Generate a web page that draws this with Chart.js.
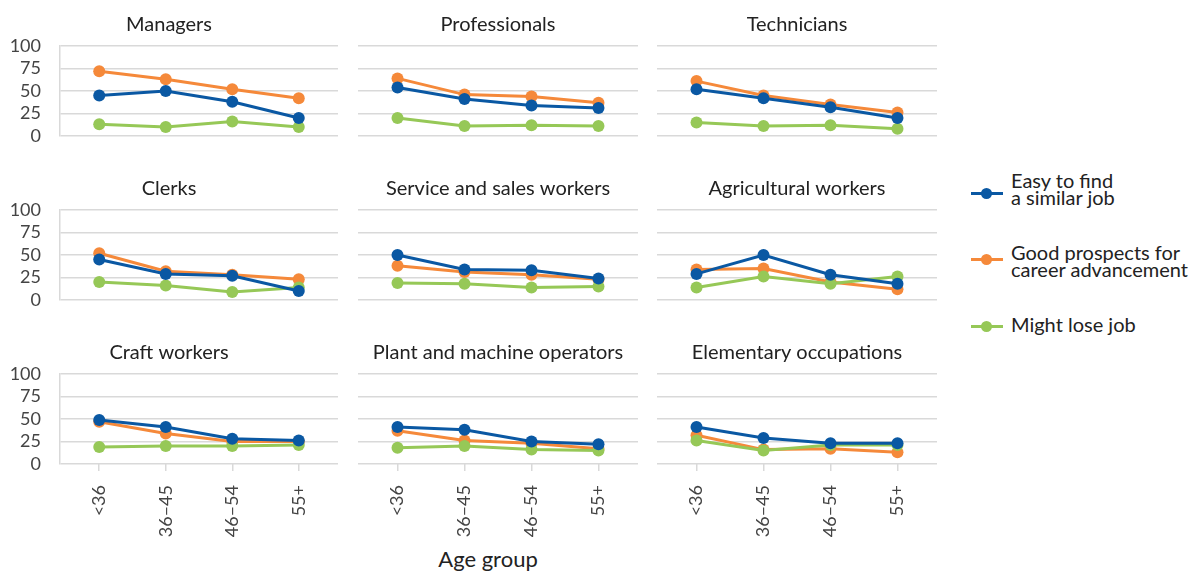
<!DOCTYPE html>
<html><head><meta charset="utf-8">
<script src="https://cdn.jsdelivr.net/npm/chart.js@4.4.1/dist/chart.umd.min.js"></script>
<style>
body{margin:0;background:#fff;width:1197px;height:574px;overflow:hidden;position:relative;font-family:Lato,sans-serif;}
canvas{position:absolute;}
.leg{position:absolute;left:1011px;font-size:20px;line-height:17px;color:#222;white-space:nowrap;}
.mk{position:absolute;left:971px;width:32px;height:3px;}
.mk span{position:absolute;left:10px;top:-4px;width:11px;height:11px;border-radius:50%;}
#xt{position:absolute;left:388px;width:200px;text-align:center;font-size:22px;line-height:22px;color:#222;}
</style></head><body>
<div id="xt">Age group</div>
<script>
const ageGroups = ['<36', '36–45', '46–54', '55+'];
const occupations = ['Managers', 'Professionals', 'Technicians', 'Clerks', 'Service and sales workers', 'Agricultural workers', 'Craft workers', 'Plant and machine operators', 'Elementary occupations'];
const yTicks = [0, 25, 50, 75, 100];
const seriesNames = ['Easy to find a similar job', 'Good prospects for career advancement', 'Might lose job'];
const legendLines = [['Easy to find', 'a similar job'], ['Good prospects for', 'career advancement'], ['Might lose job']];
const easyToFind = [
  [45, 50, 38, 20],
  [54, 41, 34, 31],
  [52, 42, 32, 20],
  [45, 29, 27, 10],
  [50, 34, 33, 24],
  [29, 50, 28, 18],
  [49, 41, 28, 26],
  [41, 38, 25, 22],
  [41, 29, 23, 23]
];
const goodProspects = [
  [72, 63, 52, 42],
  [64, 46, 44, 37],
  [61, 45, 35, 26],
  [52, 32, 28, 23],
  [38, 31, 28, 23],
  [34, 35, 20, 12],
  [47, 34, 25, 25],
  [37, 26, 23, 17],
  [32, 16, 17, 13]
];
const mightLose = [
  [13, 10, 16, 10],
  [20, 11, 12, 11],
  [15, 11, 12, 8],
  [20, 16, 9, 14],
  [19, 18, 14, 15],
  [14, 26, 18, 26],
  [19, 20, 20, 21],
  [18, 20, 16, 15],
  [26, 15, 21, 21]
];
const seriesData = [easyToFind, goodProspects, mightLose];
const colors = ['#0a58a3', '#f5893a', '#96c857'];
const drawOrder = [1, 3, 2];

const colLeft = [60, 358, 657];
const plotW = [278, 280, 280];
const plotTop = [46, 210, 374];
const plotH = 90;
const titleH = 35;
const FONT = 'Lato';

occupations.forEach((name, i) => {
  const r = Math.floor(i / 3), c = i % 3;
  const bottomRow = r === 2, leftCol = c === 0;
  const yW = leftCol ? 60 : 0;
  const bottomH = bottomRow ? 80 : 32;
  const cv = document.createElement('canvas');
  const w = plotW[c] + yW, h = titleH + plotH + bottomH;
  cv.width = w; cv.height = h;
  cv.style.left = (colLeft[c] - yW) + 'px';
  cv.style.top = (plotTop[r] - titleH) + 'px';
  cv.style.width = w + 'px'; cv.style.height = h + 'px';
  document.body.appendChild(cv);
  new Chart(cv, {
    type: 'line',
    data: {
      datasets: seriesNames.map((s, k) => ({
        label: s,
        data: seriesData[k][i].map((v, j) => ({x: j, y: v})),
        borderColor: colors[k],
        backgroundColor: colors[k],
        pointBackgroundColor: colors[k],
        pointBorderWidth: 0,
        clip: false,
        order: drawOrder[k]
      }))
    },
    options: {
      responsive: false, animation: false, events: [],
      layout: {autoPadding: false, padding: {left: 0, right: 0, top: 0, bottom: bottomRow ? 0 : 32}},
      elements: {line: {borderWidth: 3, tension: 0}, point: {radius: 6, borderWidth: 0, hoverRadius: 6}},
      plugins: {
        legend: {display: false}, tooltip: {enabled: false},
        title: {display: true, text: name, color: '#222', font: {family: FONT, size: 20, weight: 'normal', lineHeight: 1.2}, padding: {top: 2, bottom: 9}}
      },
      scales: {
        x: {
          type: 'linear', min: -0.59, max: 3.59, display: bottomRow,
          afterBuildTicks: s => { s.ticks = ageGroups.map((_, k) => ({value: k})); },
          afterFit: s => { if (bottomRow) s.height = 80; },
          grid: {drawOnChartArea: false, drawTicks: true, tickLength: 7, color: '#d9d9d9', lineWidth: 1.5},
          border: {display: false},
          ticks: {autoSkip: false, minRotation: 90, maxRotation: 90, padding: 14, font: {family: FONT, size: 18}, color: '#444', callback: v => ageGroups[v]}
        },
        y: {
          min: 0, max: 100,
          afterBuildTicks: s => { s.ticks = yTicks.map(v => ({value: v})); },
          afterFit: s => { s.width = yW; },
          grid: {color: '#d9d9d9', lineWidth: 1.5, drawTicks: false},
          border: {display: leftCol, color: '#d9d9d9', width: 1.5},
          ticks: {display: leftCol, autoSkip: false, padding: 19, font: {family: FONT, size: 18}, color: '#444'}
        }
      }
    }
  });
});

const markerY = [193, 259, 326];
const textTop = [172, 244, 316];
legendLines.forEach((lines, k) => {
  const mk = document.createElement('div');
  mk.className = 'mk';
  mk.style.top = (markerY[k] - 1.5) + 'px';
  mk.style.background = colors[k];
  const dot = document.createElement('span');
  dot.style.background = colors[k];
  mk.appendChild(dot);
  document.body.appendChild(mk);
  const t = document.createElement('div');
  t.className = 'leg';
  t.style.top = textTop[k] + 'px';
  t.innerHTML = lines.join('<br>');
  document.body.appendChild(t);
});
document.getElementById('xt').style.top = '548px';
</script>
</body></html>
